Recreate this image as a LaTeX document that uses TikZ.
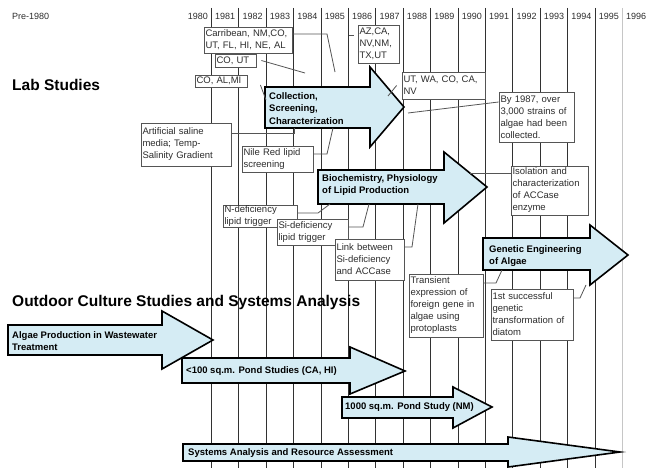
\documentclass[tikz,border=0pt]{standalone}
\usepackage{fontspec}
\setmainfont{Liberation Sans}
\definecolor{arrowfill}{RGB}{213,236,244}
\definecolor{gridc}{RGB}{50,50,50}
\definecolor{boxc}{RGB}{85,85,85}
\definecolor{txtc}{RGB}{45,45,45}
\newcommand{\bigarrowpath}[8]{%
  \draw[bigarrow] (#1,#2) -- (#4,#2) -- (#4,#5) -- (#7,#8) -- (#4,#6) -- (#4,#3) -- (#1,#3) -- cycle;}
\begin{document}
\begin{tikzpicture}[x=1pt,y=-1pt,
  gridline/.style={draw=gridc,line width=1pt},
  yearlbl/.style={font=\fontsize{9}{10}\selectfont, text=txtc, inner sep=0pt},
  heading/.style={font=\fontsize{15.5}{17}\selectfont\bfseries, anchor=west, inner sep=0pt},
  bigarrow/.style={draw=black, fill=arrowfill, line width=1.6pt, line join=miter},
  arrowtxt/.style={font=\fontsize{9.5}{12.5}\selectfont\bfseries, anchor=west, align=left, inner sep=0pt},
  tbox/.style={draw=boxc, fill=white, line width=0.8pt, font=\fontsize{9.5}{12}\selectfont, text=txtc, align=left, inner xsep=1.5pt, inner ysep=0.5pt},
  conn/.style={draw=boxc, line width=0.8pt}
]
\useasboundingbox (0,0) rectangle (647,468);
\fill[white] (0,0) rectangle (647,468);

% grid of years
\foreach \k in {0,...,14} {\draw[gridline] ({211.5+27.4*\k},8) -- ({211.5+27.4*\k},468);}
\draw[gridline, draw=gray!45] (622.5,8) -- (622.5,468);
\foreach \k in {0,...,16} {
  \pgfmathtruncatemacro\yr{1980+\k}
  \node[yearlbl] (y\k) at ({211.5+27.4*(\k-0.5)},16) {\yr};
}
\node[yearlbl, anchor=west] (pre) at (12,16) {Pre-1980};

% headings
\node[heading] (lab) at (12,85) {Lab Studies};
\node[heading] (out) at (12,302) {Outdoor Culture Studies and Systems Analysis};

% big arrows
\bigarrowpath{265}{87}{128}{370}{67}{147}{404}{107}
\bigarrowpath{318}{170}{204}{444}{152}{223}{487}{187}
\bigarrowpath{483}{238}{270}{590}{225}{285}{628}{255}
\bigarrowpath{8}{325}{355}{162}{311}{369}{213}{340}
\bigarrowpath{182}{358}{383}{350}{347}{394}{405}{371}
\bigarrowpath{342}{397}{418}{453}{387}{428}{492}{407}
\bigarrowpath{183}{444}{461}{508}{437}{467}{620}{452}

\node[arrowtxt] (t1) at (269,108.5) {Collection,\\Screening,\\Characterization};
\node[arrowtxt] (t2) at (322,185) {Biochemistry, Physiology\\of Lipid Production};
\node[arrowtxt] (t3) at (489,256) {Genetic Engineering\\of Algae};
\node[arrowtxt] (t4) at (12,341) {Algae Production in Wastewater\\Treatment};
\node[arrowtxt] (t5) at (186,371) {<100 sq.m. Pond Studies (CA, HI)};
\node[arrowtxt] (t6) at (345,407) {1000 sq.m. Pond Study (NM)};
\node[arrowtxt] (t7) at (188,453) {Systems Analysis and Resource Assessment};

% connector free ends
\coordinate (e1a) at (327,34);  \coordinate (e1) at (335,72);
\coordinate (e3) at (305,73);
\coordinate (e4) at (266,100);
\coordinate (e5) at (388,96);
\coordinate (e6) at (408,113);
\coordinate (e7a) at (294,133); \coordinate (e7) at (294,128);
\coordinate (e8a) at (327,154); \coordinate (e8) at (333,128);
\coordinate (e9a) at (318,213); \coordinate (e9) at (330,204);
\coordinate (e10a) at (363,227); \coordinate (e10) at (369,204);
\coordinate (e11a) at (412,247); \coordinate (e11) at (418,204);
\coordinate (e12) at (470,173);
\coordinate (e13a) at (496,283); \coordinate (e13) at (502,270);
\coordinate (e14a) at (580,298); \coordinate (e14) at (586,285);

% boxes
\node[tbox, text width=85pt, minimum height=26pt] (b1) at (248,40) {Carribean, NM,CO,\\UT, FL, HI, NE, AL};
\node[tbox, text width=38pt, minimum height=38pt] (b2) at (378.5,44) {AZ,CA,\\NV,NM,\\TX,UT};
\node[tbox, text width=38pt, minimum height=13pt] (b3) at (235.5,60.5) {CO, UT};
\node[tbox, text width=49pt, minimum height=12pt] (b4) at (221,81) {CO, AL,MI};
\node[tbox, text width=80pt, minimum height=27pt] (b5) at (443.5,85.5) {UT, WA, CO, CA,\\NV};
\node[tbox, text width=72pt, minimum height=50pt] (b6) at (536.5,117) {By 1987, over\\3,000 strains of\\algae had been\\collected.};
\node[tbox, text width=87pt, minimum height=43pt] (b7) at (186,144.5) {Artificial saline\\media; Temp-\\Salinity Gradient};
\node[tbox, text width=68pt, minimum height=26pt] (b8) at (277.5,159) {Nile Red lipid\\screening};
\node[tbox, text width=71pt, minimum height=22pt] (b9) at (260,216) {N-deficiency\\lipid trigger};
\node[tbox, text width=68pt, minimum height=26pt] (b10) at (312.5,232) {Si-deficiency\\lipid trigger};
\node[tbox, text width=66pt, minimum height=41pt] (b11) at (369.5,259.5) {Link between\\Si-deficiency\\and ACCase};
\node[tbox, text width=74pt, minimum height=49pt] (b12) at (549.5,190.5) {Isolation and\\characterization\\of ACCase\\enzyme};
\node[tbox, text width=71pt, minimum height=63pt] (b13) at (446,305.5) {Transient\\expression of\\foreign gene in\\algae using\\protoplasts};
\node[tbox, text width=79pt, minimum height=51pt] (b14) at (532,314.5) {1st successful\\genetic\\transformation of\\diatom};

% connectors
\draw[conn] ([yshift=6pt]b1.east) -- (e1a) -- (e1);
\draw[conn] ([xshift=-4pt,yshift=9pt]b2.west) -- ++(-5,0);
\draw[conn] ([xshift=5pt]b3.east) -- (e3);
\draw[conn] ([xshift=13pt,yshift=-4pt]b4.east) -- (e4);
\draw[conn] ([xshift=-5pt]b5.west) -- (e5);
\draw[conn] ([yshift=15pt]b6.west) -- (e6);
\draw[conn] ([yshift=11.5pt]b7.east) -- (e7a) -- (e7);
\draw[conn] ([yshift=5pt]b8.east) -- (e8a) -- (e8);
\draw[conn] ([yshift=3pt]b9.east) -- (e9a) -- (e9);
\draw[conn] ([yshift=5pt]b10.east) -- (e10a) -- (e10);
\draw[conn] ([yshift=12.5pt]b11.east) -- (e11a) -- (e11);
\draw[conn] ([yshift=17.5pt]b12.west) -- (e12);
\draw[conn] ([yshift=22.5pt]b13.east) -- (e13a) -- (e13);
\draw[conn] ([yshift=16.5pt]b14.east) -- (e14a) -- (e14);
\end{tikzpicture}
\end{document}
